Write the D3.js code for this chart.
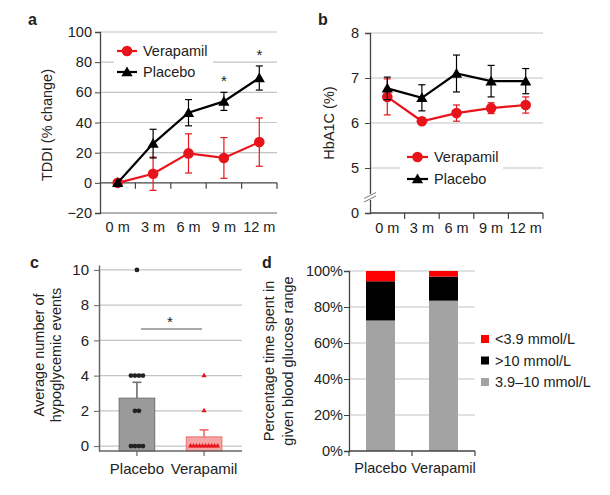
<!DOCTYPE html>
<html><head><meta charset="utf-8">
<script src="https://cdn.jsdelivr.net/npm/d3@7"></script>
<style>
body{margin:0;background:#fff;}
svg text{font-family:"Liberation Sans",Arial,sans-serif;fill:#222;}
</style></head>
<body><svg id="c" width="610" height="495"></svg>
<script>
// ---------- data ----------
const months = ["0 m","3 m","6 m","9 m","12 m"];
const tddiVerapamil = [0, 6, 19.5, 16.5, 27];
const tddiVerapamilErr = [0, 11, 13, 13.5, 16];
const tddiPlacebo = [0, 26, 46.5, 54, 69.5];
const tddiPlaceboErr = [0, 9.5, 8.7, 6, 8];
const tddiTicks = [-20, 0, 20, 40, 60, 80, 100];
const tddiStars = ["9 m", "12 m"];

const hbVerapamil = [6.58, 6.04, 6.22, 6.33, 6.4];
const hbVerapamilErr = [0.4, 0.07, 0.18, 0.12, 0.18];
const hbPlacebo = [6.77, 6.56, 7.1, 6.93, 6.93];
const hbPlaceboErr = [0.25, 0.29, 0.41, 0.35, 0.28];
const hbTicks = [0, 5, 6, 7, 8];

const groups = ["Placebo", "Verapamil"];
const hypoMean = [2.72, 0.52];
const hypoErr = [0.9, 0.4];
const hypoPlaceboPoints = [10, 4, 4, 4, 4, 2, 2, 0, 0, 0, 0];
const hypoVerapamilPoints = [4, 2, 0, 0, 0, 0, 0, 0, 0, 0, 0, 0];
const hypoTicks = [0, 2, 4, 6, 8, 10];

const rangeLabels = ["<3.9 mmol/L", ">10 mmol/L", "3.9\u201310 mmol/L"];
const rangeInRange = [72.5, 83.5];
const rangeHigh = [21.8, 13.4];
const rangeLow = [5.7, 3.1];
const pctTicks = [0, 20, 40, 60, 80, 100];

const RED = "#e8141c", GRID = "#c4c4c4", AX = "#444";
const svg = d3.select("#c");
const FS = 14.5;

function label(t, x, y){ svg.append("text").attr("x",x).attr("y",y).attr("font-weight","bold").attr("font-size",16).text(t); }
function vtitle(lines, x0, dx, cy){
  lines.forEach((t,i)=>svg.append("text").attr("transform",`translate(${x0+i*dx},${cy}) rotate(-90)`)
    .attr("text-anchor","middle").attr("dominant-baseline","central").attr("font-size",FS).text(t));
}
const tri = d3.symbol().type(d3.symbolTriangle);

// ---------- panel a ----------
{
  const x = d3.scaleBand().domain(months).range([100, 277]);
  const y = d3.scaleLinear().domain([-20, 100]).range([213, 32]);
  const g = svg.append("g");
  g.selectAll(".gr").data(tddiTicks.filter(d=>d>0)).join("line")
    .attr("x1",100).attr("x2",277).attr("y1",d=>y(d)).attr("y2",d=>y(d)).attr("stroke",GRID).attr("stroke-width",1.2);
  g.append("line").attr("x1",100).attr("x2",277).attr("y1",y(-20)).attr("y2",y(-20)).attr("stroke","#666").attr("stroke-width",1.2);
  // legend box
  g.append("rect").attr("x",114).attr("y",40).attr("width",99).attr("height",42).attr("fill","#fff");
  const ya = g.append("g").attr("transform","translate(100,0)").call(d3.axisLeft(y).tickValues(tddiTicks).tickSize(5).tickPadding(3).tickFormat(d=>d<0?"\u221220":d));
  ya.select(".domain").attr("stroke",AX).attr("stroke-width",1.3);
  ya.selectAll(".tick line").attr("stroke",AX);
  ya.selectAll("text").attr("font-size",FS).attr("fill","#222").attr("font-family","Liberation Sans, Arial");
  // zero axis with ticks between categories
  g.append("line").attr("x1",100).attr("x2",277).attr("y1",y(0)).attr("y2",y(0)).attr("stroke",AX).attr("stroke-width",1.3);
  g.selectAll(".xt").data(months).join("line")
    .attr("x1",d=>x(d)+x.bandwidth()).attr("x2",d=>x(d)+x.bandwidth()).attr("y1",y(0)).attr("y2",y(0)+6).attr("stroke",AX).attr("stroke-width",1.2);
  g.selectAll(".xl").data(months).join("text").attr("x",d=>x(d)+x.bandwidth()/2).attr("y",232)
    .attr("text-anchor","middle").attr("font-size",FS).text(d=>d);
  const cx = d=>x(d)+x.bandwidth()/2;
  function series(vals, errs, color, marker){
    g.selectAll(null).data(months).join("g").each(function(m,i){
      if(!errs[i]) return;
      const s = d3.select(this);
      s.append("line").attr("x1",cx(m)).attr("x2",cx(m)).attr("y1",y(vals[i]-errs[i])).attr("y2",y(vals[i]+errs[i])).attr("stroke",color).attr("stroke-width",1.2);
      [vals[i]-errs[i], vals[i]+errs[i]].forEach(v=>s.append("line").attr("x1",cx(m)-3.5).attr("x2",cx(m)+3.5).attr("y1",y(v)).attr("y2",y(v)).attr("stroke",color).attr("stroke-width",1.2));
    });
    g.append("path").datum(vals).attr("fill","none").attr("stroke",color).attr("stroke-width",2.2)
      .attr("d", d3.line().x((d,i)=>cx(months[i])).y(d=>y(d)));
    if(marker==="circle") g.selectAll(null).data(vals).join("circle").attr("cx",(d,i)=>cx(months[i])).attr("cy",d=>y(d)).attr("r",5.3).attr("fill",color);
    else g.selectAll(null).data(vals).join("path").attr("d",tri.size(55)).attr("transform",(d,i)=>`translate(${cx(months[i])},${y(d)+1})`).attr("fill",color);
  }
  series(tddiVerapamil, tddiVerapamilErr, RED, "circle");
  series(tddiPlacebo, tddiPlaceboErr, "#000", "tri");
  tddiStars.forEach(m=>{
    const i = months.indexOf(m);
    g.append("text").attr("x",cx(m)).attr("y",y(tddiPlacebo[i]+tddiPlaceboErr[i])-6).attr("text-anchor","middle").attr("font-size",15).text("*");
  });
  // legend
  g.append("line").attr("x1",117).attr("x2",137).attr("y1",51).attr("y2",51).attr("stroke",RED).attr("stroke-width",2.2);
  g.append("circle").attr("cx",127).attr("cy",51).attr("r",5.3).attr("fill",RED);
  g.append("text").attr("x",143).attr("y",56).attr("font-size",FS).text("Verapamil");
  g.append("line").attr("x1",117).attr("x2",137).attr("y1",72).attr("y2",72).attr("stroke","#000").attr("stroke-width",2.2);
  g.append("path").attr("d",tri.size(55)).attr("transform","translate(127,73)").attr("fill","#000");
  g.append("text").attr("x",143).attr("y",77).attr("font-size",FS).text("Placebo");
  label("a", 28, 25);
  vtitle(["TDDI (% change)"], 47, 0, 125);
}

// ---------- panel b ----------
{
  const x = d3.scaleBand().domain(months).range([370, 543]);
  const y = d3.scaleLinear().domain([0, 5, 8]).range([213, 168, 33]);
  const g = svg.append("g");
  g.selectAll(null).data(hbTicks.filter(d=>d>0)).join("line")
    .attr("x1",370).attr("x2",543).attr("y1",d=>y(d)).attr("y2",d=>y(d)).attr("stroke",GRID).attr("stroke-width",1.2);
  g.append("rect").attr("x",400).attr("y",145).attr("width",103).attr("height",45).attr("fill","#fff");
  const ya = g.append("g").attr("transform","translate(370,0)").call(d3.axisLeft(y).tickValues(hbTicks).tickSize(5).tickPadding(6));
  ya.select(".domain").attr("stroke",AX).attr("stroke-width",1.3);
  ya.selectAll(".tick line").attr("stroke",AX);
  ya.selectAll("text").attr("font-size",FS).attr("fill","#222").attr("font-family","Liberation Sans, Arial");
  // axis break
  g.append("rect").attr("x",365).attr("y",194).attr("width",10).attr("height",6).attr("fill","#fff");
  [195.5, 199].forEach(yy=>g.append("line").attr("x1",364).attr("x2",376).attr("y1",yy+3).attr("y2",yy-3).attr("stroke","#777").attr("stroke-width",1));
  g.append("line").attr("x1",370).attr("x2",543).attr("y1",y(0)).attr("y2",y(0)).attr("stroke",AX).attr("stroke-width",1.3);
  g.selectAll(null).data(months).join("line")
    .attr("x1",d=>x(d)+x.bandwidth()).attr("x2",d=>x(d)+x.bandwidth()).attr("y1",y(0)).attr("y2",y(0)+6).attr("stroke",AX).attr("stroke-width",1.2);
  g.selectAll(null).data(months).join("text").attr("x",d=>x(d)+x.bandwidth()/2).attr("y",233)
    .attr("text-anchor","middle").attr("font-size",FS).text(d=>d);
  const cx = d=>x(d)+x.bandwidth()/2;
  function series(vals, errs, color, marker){
    g.selectAll(null).data(months).join("g").each(function(m,i){
      const s = d3.select(this);
      s.append("line").attr("x1",cx(m)).attr("x2",cx(m)).attr("y1",y(vals[i]-errs[i])).attr("y2",y(vals[i]+errs[i])).attr("stroke",color).attr("stroke-width",1.2);
      [vals[i]-errs[i], vals[i]+errs[i]].forEach(v=>s.append("line").attr("x1",cx(m)-3.5).attr("x2",cx(m)+3.5).attr("y1",y(v)).attr("y2",y(v)).attr("stroke",color).attr("stroke-width",1.2));
    });
    g.append("path").datum(vals).attr("fill","none").attr("stroke",color).attr("stroke-width",2.2)
      .attr("d", d3.line().x((d,i)=>cx(months[i])).y(d=>y(d)));
    if(marker==="circle") g.selectAll(null).data(vals).join("circle").attr("cx",(d,i)=>cx(months[i])).attr("cy",d=>y(d)).attr("r",5.3).attr("fill",color);
    else g.selectAll(null).data(vals).join("path").attr("d",tri.size(55)).attr("transform",(d,i)=>`translate(${cx(months[i])},${y(d)+1})`).attr("fill",color);
  }
  series(hbVerapamil, hbVerapamilErr, RED, "circle");
  series(hbPlacebo, hbPlaceboErr, "#000", "tri");
  g.append("line").attr("x1",407).attr("x2",428).attr("y1",157).attr("y2",157).attr("stroke",RED).attr("stroke-width",2.2);
  g.append("circle").attr("cx",417.5).attr("cy",157).attr("r",5.3).attr("fill",RED);
  g.append("text").attr("x",434).attr("y",162).attr("font-size",FS).text("Verapamil");
  g.append("line").attr("x1",407).attr("x2",428).attr("y1",179).attr("y2",179).attr("stroke","#000").attr("stroke-width",2.2);
  g.append("path").attr("d",tri.size(55)).attr("transform","translate(417.5,180)").attr("fill","#000");
  g.append("text").attr("x",434).attr("y",184).attr("font-size",FS).text("Placebo");
  label("b", 318, 25);
  vtitle(["HbA1C (%)"], 329, 0, 123);
}

// ---------- panel c ----------
{
  const x = d3.scaleBand().domain(groups).range([99, 242]).paddingInner(0.47).paddingOuter(0.3);
  const y = d3.scaleLinear().domain([-0.28, 10.28]).range([451, 265]);
  const g = svg.append("g");
  g.selectAll(null).data(hypoTicks).join("line")
    .attr("x1",99).attr("x2",242).attr("y1",d=>y(d)).attr("y2",d=>y(d)).attr("stroke",GRID).attr("stroke-width",1.2);
  const ya = g.append("g").attr("transform","translate(99,0)").call(d3.axisLeft(y).tickValues(hypoTicks).tickSize(5).tickPadding(5).tickSizeOuter(0));
  ya.select(".domain").attr("stroke","#666").attr("stroke-width",1.5);
  ya.selectAll(".tick line").attr("stroke","#666");
  ya.selectAll("text").attr("font-size",FS+0.5).attr("fill","#222").attr("font-family","Liberation Sans, Arial");
  const fills = ["#9a9a9a", "#f6a5a5"], strokes = ["#6e6e6e", "#e86a6a"];
  groups.forEach((gr,i)=>{
    const cx = x(gr)+x.bandwidth()/2;
    g.append("line").attr("x1",cx).attr("x2",cx).attr("y1",y(hypoMean[i])).attr("y2",y(hypoMean[i]+hypoErr[i])).attr("stroke",strokes[i]).attr("stroke-width",1.6);
    g.append("line").attr("x1",cx-4.5).attr("x2",cx+4.5).attr("y1",y(hypoMean[i]+hypoErr[i])).attr("y2",y(hypoMean[i]+hypoErr[i])).attr("stroke",strokes[i]).attr("stroke-width",1.6);
    g.append("rect").attr("x",x(gr)).attr("width",x.bandwidth()).attr("y",y(hypoMean[i])).attr("height",y(-0.28)-y(hypoMean[i]))
      .attr("fill",fills[i]).attr("stroke",strokes[i]).attr("stroke-width",1);
  });
  function dots(points, gi, type){
    const cx = x(groups[gi])+x.bandwidth()/2;
    const counts = d3.rollup(points, v=>v.length, d=>d);
    const sp = type==="circle"?4:3;
    counts.forEach((n,v)=>{
      for(let k=0;k<n;k++){
        const px = cx + (k-(n-1)/2)*sp;
        if(type==="circle") g.append("circle").attr("cx",px).attr("cy",y(v)).attr("r",2.4).attr("fill","#222");
        else g.append("path").attr("d",tri.size(12)).attr("transform",`translate(${px},${y(v)})`).attr("fill",RED);
      }
    });
  }
  dots(hypoPlaceboPoints, 0, "circle");
  dots(hypoVerapamilPoints, 1, "tri");
  g.append("line").attr("x1",99).attr("x2",242).attr("y1",451).attr("y2",451).attr("stroke","#666").attr("stroke-width",1.5);
  groups.forEach(gr=>g.append("line").attr("x1",x(gr)+x.bandwidth()/2).attr("x2",x(gr)+x.bandwidth()/2).attr("y1",451).attr("y2",456).attr("stroke","#666").attr("stroke-width",1.2));
  groups.forEach(gr=>g.append("text").attr("x",x(gr)+x.bandwidth()/2).attr("y",474).attr("text-anchor","middle").attr("font-size",FS+0.5).text(gr));
  g.append("line").attr("x1",141).attr("x2",202).attr("y1",329).attr("y2",329).attr("stroke","#555").attr("stroke-width",1.2);
  g.append("text").attr("x",170).attr("y",327).attr("text-anchor","middle").attr("font-size",15).text("*");
  label("c", 30, 268);
  vtitle(["Average number of","hypoglycemic events"], 39, 17, 355);
}

// ---------- panel d ----------
{
  const x = d3.scaleBand().domain(groups).range([349, 475]).paddingInner(0.54).paddingOuter(0.27);
  const y = d3.scaleLinear().domain([0, 100]).range([451, 271]);
  const g = svg.append("g");
  g.selectAll(null).data(pctTicks.filter(d=>d>0)).join("line")
    .attr("x1",349).attr("x2",475).attr("y1",d=>y(d)).attr("y2",d=>y(d)).attr("stroke",GRID).attr("stroke-width",1.2);
  const stackData = groups.map((gr,i)=>({group:gr, inrange:rangeInRange[i], high:rangeHigh[i], low:rangeLow[i]}));
  const keys = ["inrange","high","low"];
  const colors = {inrange:"#a3a3a3", high:"#000", low:"#ff0000"};
  const st = d3.stack().keys(keys)(stackData);
  st.forEach(layer=>{
    g.selectAll(null).data(layer).join("rect").attr("x",d=>x(d.data.group)).attr("width",x.bandwidth())
      .attr("y",d=>y(d[1])).attr("height",d=>y(d[0])-y(d[1])).attr("fill",colors[layer.key]);
  });
  const ya = g.append("g").attr("transform","translate(349,0)").call(d3.axisLeft(y).tickValues(pctTicks).tickSize(5).tickPadding(1).tickFormat(d=>d+"%"));
  ya.select(".domain").attr("stroke",AX).attr("stroke-width",1.3);
  ya.selectAll(".tick line").attr("stroke",AX);
  ya.selectAll("text").attr("font-size",FS).attr("fill","#222").attr("font-family","Liberation Sans, Arial");
  g.append("line").attr("x1",349).attr("x2",475).attr("y1",451).attr("y2",451).attr("stroke",AX).attr("stroke-width",1.3);
  [349, 412, 475].forEach(xx=>g.append("line").attr("x1",xx).attr("x2",xx).attr("y1",451).attr("y2",456).attr("stroke",AX).attr("stroke-width",1.2));
  groups.forEach(gr=>g.append("text").attr("x",x(gr)+x.bandwidth()/2).attr("y",473).attr("text-anchor","middle").attr("font-size",FS).text(gr));
  const legKeys = ["low","high","inrange"];
  legKeys.forEach((k,i)=>{
    g.append("rect").attr("x",481).attr("y",335+i*21.5).attr("width",8).attr("height",8).attr("fill",colors[k]);
    g.append("text").attr("x",495).attr("y",344+i*21.5).attr("font-size",FS).text(rangeLabels[i]);
  });
  label("d", 262, 268);
  vtitle(["Percentage time spent in","given blood glucose range"], 269, 19, 361);
}
</script></body></html>
